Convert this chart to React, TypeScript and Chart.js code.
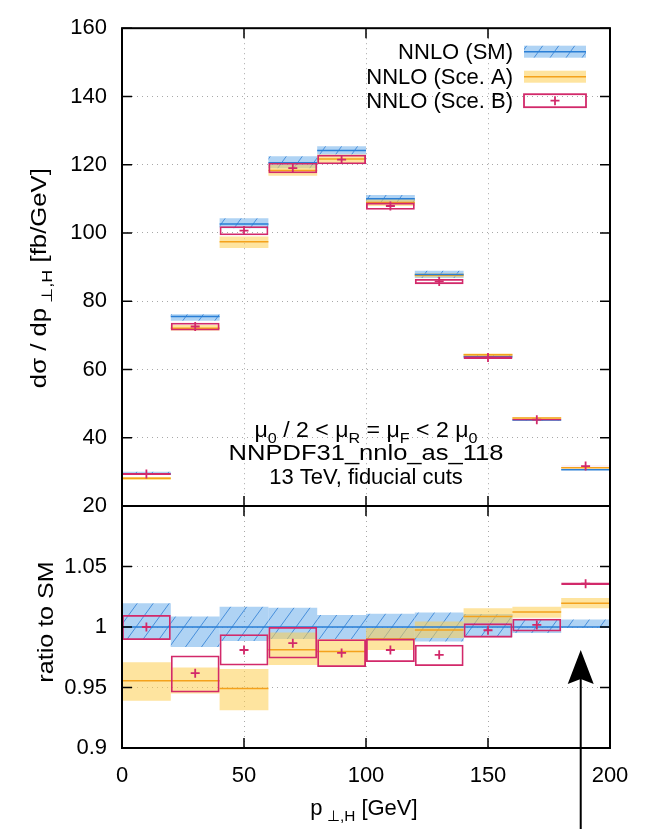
import React, { useEffect, useRef } from 'react';
import { Chart, registerables } from 'chart.js';
Chart.register(...registerables);

// ---------- data ----------
const binLo = [0, 20, 40, 60, 80, 100, 120, 140, 160, 180];
const binHi = [20, 40, 60, 80, 100, 120, 140, 160, 180, 200];

// upper panel: dsigma/dpT [fb/GeV]
const smCentral = [29.4, 75.5, 102.6, 120.6, 124.2, 110.0, 87.8, 63.7, 45.2, 30.6];
const smLow = [29.1, 74.3, 101.4, 119.0, 123.0, 108.9, 86.8, 63.2, 45.0, 30.55];
const smHigh = [30.0, 76.2, 104.3, 122.5, 125.4, 111.1, 88.9, 64.4, 45.5, 30.8];

const aCentral = [28.1, 72.1, 97.4, 118.3, 121.7, 108.9, 87.6, 64.3, 45.8, 31.2];
const aLow = [27.6, 71.4, 95.6, 116.8, 120.2, 107.9, 87.0, 63.9, 45.55, 31.07];
const aHigh = [28.5, 73.0, 99.0, 120.0, 123.0, 109.9, 88.2, 64.7, 45.96, 31.33];

const bCentral = [29.4, 72.6, 100.7, 119.0, 121.5, 107.9, 85.8, 63.5, 45.3, 31.7];
const bLow = [29.1, 71.4, 99.3, 117.5, 120.1, 106.8, 85.0, 63.1, 45.03, 31.63];
const bHigh = [29.7, 73.7, 102.0, 120.6, 122.95, 108.9, 86.5, 63.9, 45.5, 31.77];

// lower panel: ratio to SM
const smRatio = [1, 1, 1, 1, 1, 1, 1, 1, 1, 1];
const smRatioLow = [0.99, 0.9835, 0.9884, 0.99, 0.99, 0.99, 0.988, 0.992, 0.995, 0.9995];
const smRatioHigh = [1.0196, 1.0086, 1.0168, 1.016, 1.0099, 1.011, 1.0119, 1.0107, 1.006, 1.0063];

const aRatio = [0.9555, 0.9555, 0.9492, 0.9813, 0.9797, 0.99, 0.9975, 1.0086, 1.0124, 1.0196];
const aRatioLow = [0.939, 0.9451, 0.9313, 0.9686, 0.968, 0.981, 0.991, 1.003, 1.0077, 1.0154];
const aRatioHigh = [0.9709, 0.9665, 0.9653, 0.9954, 0.99, 0.9992, 1.0045, 1.0154, 1.0168, 1.024];

const bRatio = [1.0, 0.9618, 0.981, 0.9866, 0.9786, 0.981, 0.977, 0.9973, 1.0017, 1.0358];
const bRatioLow = [0.9893, 0.9459, 0.9681, 0.974, 0.967, 0.9711, 0.9677, 0.9912, 0.9962, 1.0348];
const bRatioHigh = [1.0099, 0.9764, 0.994, 1.0, 0.9899, 0.9904, 0.9853, 1.003, 1.0069, 1.0368];

// ticks and labels
const xTicks = [0, 50, 100, 150, 200];
const yTicksTop = [20, 40, 60, 80, 100, 120, 140, 160];
const yTicksRatio = [0.9, 0.95, 1, 1.05, 1.1];
const ratioTickLabels = ['0.9', '0.95', '1', '1.05', ''];

const legendLabels = ['NNLO (SM)', 'NNLO (Sce. A)', 'NNLO (Sce. B)'];
const infoLine2 = 'NNPDF31_nnlo_as_118';
const infoLine3 = '13 TeV, fiducial cuts';
const ratioTitle = 'ratio to SM';
const arrowX = 188;
const arrowTip = 0.981;

// ---------- style ----------
const FONT = '"Liberation Sans", Arial, Helvetica, sans-serif';
const FS = 22;
const SM_LINE = '#2a7fd6';
const A_FILL = 'rgba(253,205,80,0.55)';
const A_LINE = '#f4a21c';
const B_COLOR = '#d2296a';

type Part = { t: string; sub?: boolean };

function setFont(ctx: CanvasRenderingContext2D, size: number) {
  ctx.font = `${size}px ${FONT}`;
}
function drawRich(ctx: CanvasRenderingContext2D, parts: Part[], x: number, y: number, size: number, align: string, sx = 1) {
  const subSize = size * 0.7;
  let w = 0;
  for (const p of parts) {
    setFont(ctx, p.sub ? subSize : size);
    w += ctx.measureText(p.t).width;
  }
  ctx.save();
  ctx.translate(x, y);
  ctx.scale(sx, 1);
  let cx = align === 'center' ? -w / 2 : align === 'right' ? -w : 0;
  ctx.textAlign = 'left';
  ctx.textBaseline = 'alphabetic';
  for (const p of parts) {
    setFont(ctx, p.sub ? subSize : size);
    ctx.fillText(p.t, cx, p.sub ? size * 0.27 : 0);
    cx += ctx.measureText(p.t).width;
  }
  ctx.restore();
}

function makeHatch(): any {
  const c = document.createElement('canvas');
  c.width = 16;
  c.height = 22;
  const g = c.getContext('2d')!;
  g.fillStyle = 'rgba(95,168,234,0.5)';
  g.fillRect(0, 0, 16, 22);
  g.strokeStyle = 'rgba(45,125,212,0.8)';
  g.lineWidth = 1;
  g.beginPath();
  g.moveTo(0, 22);
  g.lineTo(16, 0);
  g.moveTo(-4, 5.5);
  g.lineTo(4, -5.5);
  g.moveTo(12, 27.5);
  g.lineTo(20, 16.5);
  g.stroke();
  return g.createPattern(c, 'repeat');
}

const mid = (i: number) => (binLo[i] + binHi[i]) / 2;
const band = (lo: number[], hi: number[]) => binLo.map((_, i) => ({ x: mid(i), y: [lo[i], hi[i]] }));
const segs = (v: number[]) =>
  binLo.flatMap((l, i) => [
    { x: l, y: v[i] },
    { x: binHi[i], y: v[i] },
    { x: binHi[i], y: null },
  ]);
const pts = (v: number[]) => binLo.map((_, i) => ({ x: mid(i), y: v[i] }));

function buildDatasets(hatch: any, s: number[][], a: number[][], b: number[][]) {
  const barCommon = { type: 'bar', grouped: false, barPercentage: 1, categoryPercentage: 1, inflateAmount: 0 };
  return [
    {
      type: 'line', data: pts(b[0]), showLine: false, pointStyle: 'cross', pointRadius: 4.5,
      pointBorderWidth: 1.8, borderColor: B_COLOR, backgroundColor: B_COLOR, order: 0,
    },
    {
      ...barCommon, data: band(b[1], b[2]), backgroundColor: 'rgba(0,0,0,0)', borderColor: B_COLOR,
      borderWidth: 1.8, borderSkipped: false, order: 1,
    },
    { type: 'line', data: segs(s[0]), borderColor: SM_LINE, borderWidth: 1.5, pointRadius: 0, spanGaps: false, order: 2 },
    { type: 'line', data: segs(a[0]), borderColor: A_LINE, borderWidth: 1.5, pointRadius: 0, spanGaps: false, order: 3 },
    { ...barCommon, data: band(a[1], a[2]), backgroundColor: A_FILL, borderWidth: 0, order: 4 },
    { ...barCommon, data: band(s[1], s[2]), backgroundColor: hatch, borderWidth: 0, order: 5 },
  ];
}

function drawFrame(chart: any, yTicks: number[]) {
  const { ctx, chartArea: ca, scales } = chart;
  ctx.save();
  ctx.strokeStyle = '#000';
  ctx.lineWidth = 1.5;
  ctx.beginPath();
  for (const v of xTicks) {
    const px = scales.x.getPixelForValue(v);
    ctx.moveTo(px, ca.top);
    ctx.lineTo(px, ca.top + 10);
    ctx.moveTo(px, ca.bottom);
    ctx.lineTo(px, ca.bottom - 10);
  }
  for (const v of yTicks) {
    const py = scales.y.getPixelForValue(v);
    ctx.moveTo(ca.left, py);
    ctx.lineTo(ca.left + 10, py);
    ctx.moveTo(ca.right, py);
    ctx.lineTo(ca.right - 10, py);
  }
  ctx.stroke();
  ctx.lineWidth = 2;
  ctx.strokeRect(ca.left, ca.top, ca.right - ca.left, ca.bottom - ca.top);
  ctx.restore();
}

function baseOptions(yMin: number, yMax: number, yTicks: number[], yLabelCb: any, xHeight: number, padTop: number, showXLabels: boolean) {
  return {
    responsive: false,
    animation: false,
    devicePixelRatio: 1,
    events: [],
    layout: { padding: { left: 0, right: 35, top: padTop, bottom: 0 } },
    plugins: { legend: { display: false }, tooltip: { enabled: false } },
    scales: {
      x: {
        type: 'linear', min: 0, max: 200, offset: false,
        afterBuildTicks: (s: any) => { s.ticks = xTicks.map((v) => ({ value: v })); },
        afterFit: (s: any) => { s.height = xHeight; },
        grid: { display: true, offset: false, drawTicks: false, color: '#a8a8a8', lineWidth: 1 },
        border: { display: false, dash: [1, 4] },
        ticks: { display: showXLabels, padding: 15, color: '#000', font: { size: FS, family: FONT }, maxRotation: 0 },
      },
      y: {
        type: 'linear', min: yMin, max: yMax, beginAtZero: false,
        afterBuildTicks: (s: any) => { s.ticks = yTicks.map((v) => ({ value: v })); },
        afterFit: (s: any) => { s.width = 122; },
        grid: { display: true, drawTicks: false, color: '#a8a8a8', lineWidth: 1 },
        border: { display: false, dash: [1, 4] },
        ticks: { padding: 15, color: '#000', font: { size: FS, family: FONT }, callback: yLabelCb },
      },
    },
  } as any;
}

export default function App() {
  const topRef = useRef<HTMLCanvasElement>(null);
  const botRef = useRef<HTMLCanvasElement>(null);

  useEffect(() => {
    const hatch = makeHatch();

    const topDeco = {
      id: 'topDeco',
      afterDraw(chart: any) {
        drawFrame(chart, yTicksTop);
        const { ctx, chartArea: ca, scales } = chart;
        ctx.save();
        // legend
        const lx0 = ca.right - 86;
        const lw = 62;
        const tx = ca.right - 97;
        const rows = [ca.top + 23.5, ca.top + 48.5, ca.top + 72.5];
        ctx.fillStyle = hatch;
        ctx.fillRect(lx0, rows[0] - 6, lw, 12);
        ctx.strokeStyle = SM_LINE;
        ctx.lineWidth = 1.5;
        ctx.beginPath(); ctx.moveTo(lx0, rows[0]); ctx.lineTo(lx0 + lw, rows[0]); ctx.stroke();
        ctx.fillStyle = A_FILL;
        ctx.fillRect(lx0, rows[1] - 6, lw, 12);
        ctx.strokeStyle = A_LINE;
        ctx.beginPath(); ctx.moveTo(lx0, rows[1]); ctx.lineTo(lx0 + lw, rows[1]); ctx.stroke();
        ctx.strokeStyle = B_COLOR;
        ctx.lineWidth = 1.8;
        ctx.strokeRect(lx0, rows[2] - 6.5, lw, 13);
        ctx.beginPath();
        ctx.moveTo(lx0 + lw / 2 - 4.5, rows[2]); ctx.lineTo(lx0 + lw / 2 + 4.5, rows[2]);
        ctx.moveTo(lx0 + lw / 2, rows[2] - 4.5); ctx.lineTo(lx0 + lw / 2, rows[2] + 4.5);
        ctx.stroke();
        ctx.fillStyle = '#000';
        setFont(ctx, FS);
        ctx.textAlign = 'right';
        ctx.textBaseline = 'alphabetic';
        legendLabels.forEach((l, i) => ctx.fillText(l, tx, rows[i] + 7.5));

        // info text
        const cx = scales.x.getPixelForValue(100);
        drawRich(ctx, [
          { t: 'μ' }, { t: '0', sub: true }, { t: ' / 2 < μ' }, { t: 'R', sub: true },
          { t: ' = μ' }, { t: 'F', sub: true }, { t: ' < 2 μ' }, { t: '0', sub: true },
        ], cx, ca.bottom - 69, FS, 'center', 1.05);
        drawRich(ctx, [{ t: infoLine2 }], cx, ca.bottom - 46, FS, 'center', 1.16);
        drawRich(ctx, [{ t: infoLine3 }], cx, ca.bottom - 22, FS, 'center', 1.0);

        // y title
        ctx.translate(46, (ca.top + ca.bottom) / 2 + 11);
        ctx.rotate(-Math.PI / 2);
        drawRich(ctx, [{ t: 'dσ / dp' }, { t: ' ⊥,H', sub: true }, { t: ' [fb/GeV]' }], 0, 0, FS, 'center', 1.17);
        ctx.restore();
      },
    };

    const botDeco = {
      id: 'botDeco',
      afterDraw(chart: any) {
        drawFrame(chart, yTicksRatio);
        const { ctx, chartArea: ca, scales } = chart;
        ctx.save();
        ctx.fillStyle = '#000';
        // x title
        drawRich(ctx, [{ t: 'p' }, { t: ' ⊥,H', sub: true }, { t: ' [GeV]' }], scales.x.getPixelForValue(100) - 2, 815, FS, 'center');
        // arrow
        const ax = scales.x.getPixelForValue(arrowX);
        const ay = scales.y.getPixelForValue(arrowTip);
        ctx.beginPath();
        ctx.moveTo(ax, ay);
        ctx.lineTo(ax + 13, ay + 34);
        ctx.lineTo(ax, ay + 29);
        ctx.lineTo(ax - 13, ay + 34);
        ctx.closePath();
        ctx.fill();
        ctx.strokeStyle = '#000';
        ctx.lineWidth = 2;
        ctx.beginPath();
        ctx.moveTo(ax, ay + 29);
        ctx.lineTo(ax, chart.height);
        ctx.stroke();
        // y title
        ctx.translate(53, (ca.top + ca.bottom) / 2 - 5);
        ctx.rotate(-Math.PI / 2);
        drawRich(ctx, [{ t: ratioTitle }], 0, 0, FS, 'center', 1.14);
        ctx.restore();
      },
    };

    const top = new Chart(topRef.current!, {
      type: 'bar',
      data: {
        datasets: buildDatasets(hatch, [smCentral, smLow, smHigh], [aCentral, aLow, aHigh], [bCentral, bLow, bHigh]) as any,
      },
      options: baseOptions(20, 160, yTicksTop, (v: any) => String(v), 829 - 506, 18, false),
      plugins: [topDeco],
    } as any);

    const bot = new Chart(botRef.current!, {
      type: 'bar',
      data: {
        datasets: buildDatasets(hatch, [smRatio, smRatioLow, smRatioHigh], [aRatio, aRatioLow, aRatioHigh], [bRatio, bRatioLow, bRatioHigh]) as any,
      },
      options: baseOptions(0.9, 1.1, yTicksRatio, (_v: any, i: number) => ratioTickLabels[i], 829 - 748, 506, true),
      plugins: [botDeco],
    } as any);

    return () => {
      top.destroy();
      bot.destroy();
    };
  }, []);

  return (
    <div style={{ position: 'absolute', left: 0, top: 0, width: 645, height: 829, background: '#fff' }}>
      <canvas ref={botRef} width={645} height={829} style={{ position: 'absolute', left: 0, top: 0 }} />
      <canvas ref={topRef} width={645} height={829} style={{ position: 'absolute', left: 0, top: 0 }} />
    </div>
  );
}
